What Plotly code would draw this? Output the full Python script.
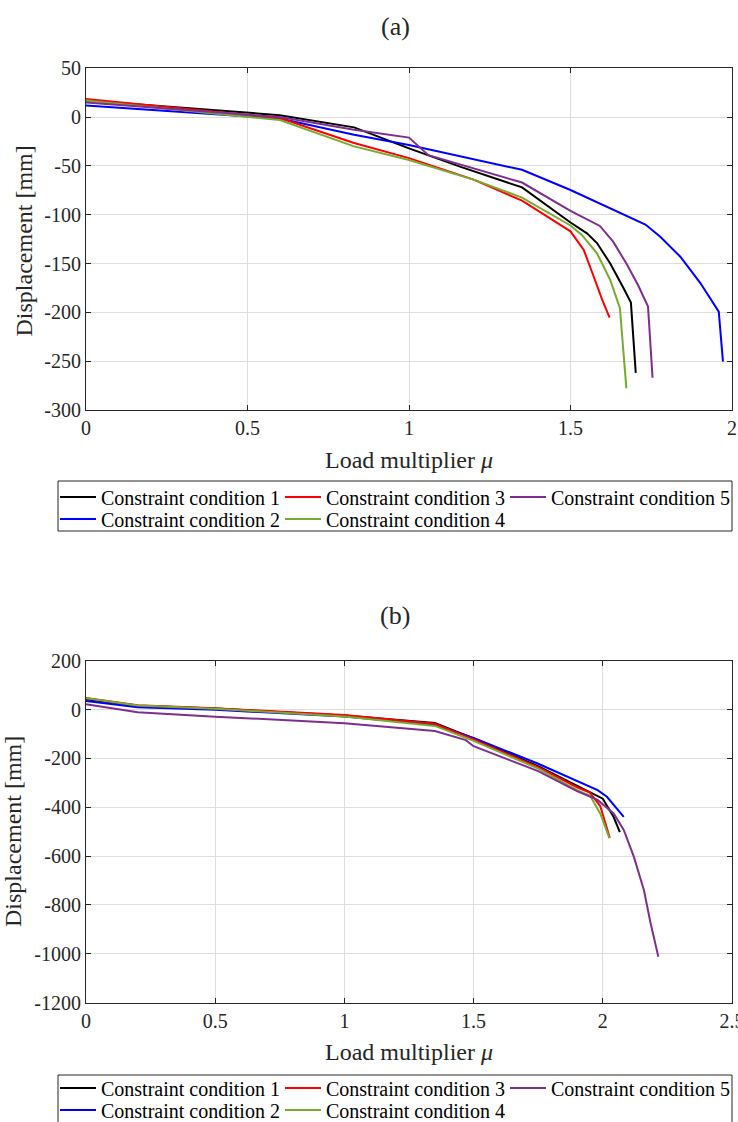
import plotly.graph_objects as go

FONT = "Liberation Serif"
TXT = "#262626"

names = ["Constraint condition 1", "Constraint condition 2", "Constraint condition 3",
         "Constraint condition 4", "Constraint condition 5"]
colors = ["#000000", "#0000FF", "#FF0000", "#77AC30", "#7E2F8E"]
# MATLAB legend fills columns first: (1,2) | (3,4) | (5)
legend_row = [0, 1, 0, 1, 0]
legend_rank = [1, 1, 2, 2, 3]

# ---------- (a) ----------
a_x1 = [0, 0.6, 0.83, 1.0, 1.16, 1.35, 1.5, 1.551, 1.582, 1.623, 1.664, 1.687, 1.702]
a_y1 = [17, 2, -10.5, -32, -51, -72, -108, -119, -129, -150, -175, -190, -262]
a_x2 = [0, 0.6, 0.83, 1.0, 1.35, 1.5, 1.732, 1.778, 1.84, 1.902, 1.959, 1.972]
a_y2 = [12, -1.5, -18, -28.6, -54, -74.7, -110, -122.5, -143, -170, -199.3, -250.5]
a_x3 = [0, 0.6, 0.83, 1.0, 1.2, 1.35, 1.5, 1.541, 1.572, 1.598, 1.621]
a_y3 = [18.6, -1, -26.5, -42, -64, -85.6, -117, -136, -163.5, -187, -205.5]
a_x4 = [0, 0.6, 0.83, 1.0, 1.2, 1.35, 1.5, 1.535, 1.582, 1.623, 1.653, 1.673]
a_y4 = [17, -3, -30, -44, -64, -82.5, -111, -120.7, -139.5, -166.8, -195.8, -277.8]
a_x5 = [0, 0.6, 0.83, 1.0, 1.06, 1.35, 1.5, 1.591, 1.632, 1.673, 1.709, 1.740, 1.754]
a_y5 = [15, 0, -13, -21, -39, -67, -96, -111.5, -127.6, -150, -172, -194, -267]

# ---------- (b) ----------
b_x1 = [0, 0.2, 0.5, 1.0, 1.35, 1.5, 1.75, 1.9, 2.0, 2.042, 2.066]
b_y1 = [42, 16, 4, -24, -55, -118, -232, -312, -365, -440, -502]
b_x2 = [0, 0.2, 0.5, 1.0, 1.35, 1.5, 1.75, 1.9, 1.98, 2.016, 2.081]
b_y2 = [35, 9, -1, -28, -62, -116, -222, -293, -330, -357, -439]
b_x3 = [0, 0.2, 0.5, 1.0, 1.35, 1.5, 1.75, 1.9, 1.95, 1.99, 2.027]
b_y3 = [47, 18, 5, -22, -58, -122, -236, -318, -340, -395, -525]
b_x4 = [0, 0.2, 0.5, 1.0, 1.35, 1.5, 1.75, 1.9, 1.951, 1.99, 2.026]
b_y4 = [46, 17, 3, -28, -67, -128, -242, -330, -353, -425, -527]
b_x5 = [0, 0.2, 0.5, 1.0, 1.35, 1.47, 1.5, 1.75, 1.9, 1.98, 2.042, 2.081, 2.12, 2.159, 2.185, 2.215]
b_y5 = [22, -11, -29, -56, -88, -125, -150, -252, -334, -370, -425, -493, -602, -739, -875, -1012]

a_xticks = [0, 0.5, 1, 1.5, 2]
a_xticktext = ["0", "0.5", "1", "1.5", "2"]
a_yticks = [50, 0, -50, -100, -150, -200, -250, -300]
a_yticktext = ["50", "0", "-50", "-100", "-150", "-200", "-250", "-300"]
b_xticks = [0, 0.5, 1, 1.5, 2, 2.5]
b_xticktext = ["0", "0.5", "1", "1.5", "2", "2.5"]
b_yticks = [200, 0, -200, -400, -600, -800, -1000, -1200]
b_yticktext = ["200", "0", "-200", "-400", "-600", "-800", "-1000", "-1200"]

A = [(a_x1, a_y1), (a_x2, a_y2), (a_x3, a_y3), (a_x4, a_y4), (a_x5, a_y5)]
B = [(b_x1, b_y1), (b_x2, b_y2), (b_x3, b_y3), (b_x4, b_y4), (b_x5, b_y5)]

fig = go.Figure()
for i, (xs, ys) in enumerate(A):
    lg = "legend" if legend_row[i] == 0 else "legend2"
    fig.add_trace(go.Scatter(x=xs, y=ys, mode="lines", name=names[i],
                             line=dict(color=colors[i], width=2),
                             legendrank=legend_rank[i], legend=lg,
                             xaxis="x", yaxis="y"))
for i, (xs, ys) in enumerate(B):
    lg = "legend3" if legend_row[i] == 0 else "legend4"
    fig.add_trace(go.Scatter(x=xs, y=ys, mode="lines", name=names[i],
                             line=dict(color=colors[i], width=2),
                             legendrank=legend_rank[i], legend=lg,
                             xaxis="x2", yaxis="y2"))

W, H = 738, 1122
xdom = [86 / W, 732 / W]
ya_dom = [1 - 410 / H, 1 - 68.3 / H]
yb_dom = [1 - 1002.7 / H, 1 - 660.7 / H]

axis_common = dict(showline=True, linecolor=TXT, linewidth=1, mirror="ticks",
                   ticks="inside", ticklen=5, tickcolor=TXT, tickwidth=1,
                   showgrid=True, gridcolor="#dedede", gridwidth=1, zeroline=False,
                   tickfont=dict(family=FONT, size=20, color=TXT), tickmode="array")


def row_legend(ypix):
    return dict(orientation="h", x=55 / W, y=1 - ypix / H, xanchor="left", yanchor="middle",
                borderwidth=0, bgcolor="rgba(0,0,0,0)", entrywidth=174, itemwidth=36,
                font=dict(family=FONT, size=20, color="#000000"), tracegroupgap=0)


fig.update_layout(
    width=W, height=H, margin=dict(l=0, r=0, t=0, b=0, autoexpand=False),
    paper_bgcolor="white", plot_bgcolor="white",
    font=dict(family=FONT, color=TXT),
    xaxis=dict(domain=xdom, range=[0, 2], anchor="y", tickvals=a_xticks,
               ticktext=a_xticktext, **axis_common),
    yaxis=dict(domain=ya_dom, range=[-300, 50], anchor="x", tickvals=a_yticks,
               ticktext=a_yticktext, **axis_common),
    xaxis2=dict(domain=xdom, range=[0, 2.5], anchor="y2", tickvals=b_xticks,
                ticktext=b_xticktext, ticklabeloverflow="allow", **axis_common),
    yaxis2=dict(domain=yb_dom, range=[-1200, 200], anchor="x2", tickvals=b_yticks,
                ticktext=b_yticktext, **axis_common),
    legend=row_legend(497),
    legend2=row_legend(519),
    legend3=row_legend(1088),
    legend4=row_legend(1110),
    showlegend=True,
)

# legend frames (the lower one is cut by the bottom edge of the figure)
fig.add_shape(type="rect", xref="paper", yref="paper", x0=58 / W, x1=732 / W,
              y0=1 - 531 / H, y1=1 - 481 / H, line=dict(color=TXT, width=1),
              fillcolor="rgba(0,0,0,0)", layer="below")
bx0, bx1, by1 = 58 / W, 732 / W, 1 - 1075 / H
fig.add_shape(type="path", xref="paper", yref="paper",
              path=f"M {bx0},0 L {bx0},{by1} L {bx1},{by1} L {bx1},0",
              line=dict(color=TXT, width=1), layer="below")

ann = [
    dict(text="(a)", x=395 / W, y=1 - 26 / H, size=26, angle=0),
    dict(text="(b)", x=395 / W, y=1 - 615 / H, size=26, angle=0),
    dict(text="Load multiplier <i>μ</i>", x=408.5 / W, y=1 - 460 / H, size=24, angle=0),
    dict(text="Load multiplier <i>μ</i>", x=408.5 / W, y=1 - 1052 / H, size=24, angle=0),
    dict(text="Displacement [mm]", x=23.5 / W, y=1 - 241 / H, size=24, angle=-90),
    dict(text="Displacement [mm]", x=13 / W, y=1 - 832 / H, size=24, angle=-90),
]
for a in ann:
    fig.add_annotation(text=a["text"], x=a["x"], y=a["y"], xref="paper", yref="paper",
                       xanchor="center", yanchor="middle", showarrow=False,
                       textangle=a["angle"],
                       font=dict(family=FONT, size=a["size"], color=TXT))

fig.write_html("out.html",
               post_script="document.body.style.margin='0';"
                           "document.documentElement.style.overflow='hidden';"
                           "document.body.style.overflow='hidden';"
                           "var d=document.getElementById('{plot_id}');"
                           "d.style.overflow='hidden';")
